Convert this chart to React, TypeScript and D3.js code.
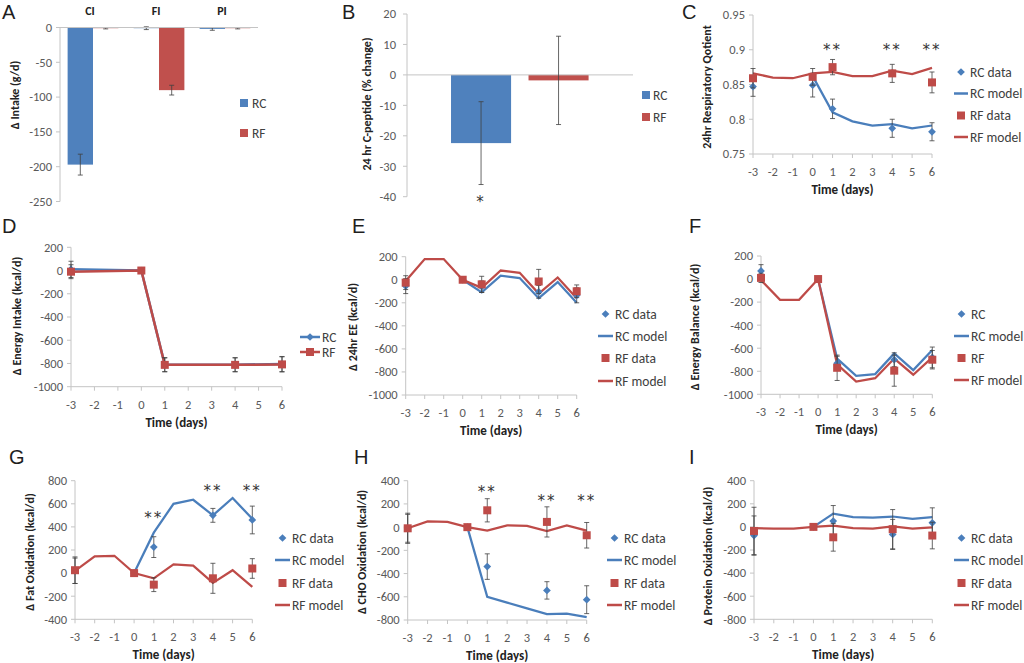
import React from 'react';
import * as d3 from 'd3';

const BLUE = '#4a7ebb';
const RED = '#be4b48';
const BAR_BLUE = '#4f81bd';
const BAR_RED = '#c0504d';
const AXIS = '#c4c4c4';
const TICK_TEXT = '#595959';
const ERR = '#404040';
const FONT = 'Calibri, Carlito, Lato, sans-serif';
const STAR_FONT = 'DejaVu Sans, sans-serif';

// shared day axes
const days = [-3, -2, -1, 0, 1, 2, 3, 4, 5, 6];
const dataDays = [-3, 0, 1, 4, 6];
const modelDaysRC = [0, 1, 2, 3, 4, 5, 6];

// A: intake change by macronutrient
const intakeCats = ['CI', 'FI', 'PI'];
const intakeGroups = ['RC', 'RF'];
const intakeRC = [-197, -1, -2];
const intakeRCErr = [15, 2, 2];
const intakeRF = [-1, -90, -1];
const intakeRFErr = [1, 7, 1];

// B: 24 hr C-peptide
const cpepGroups = ['RC', 'RF'];
const cpepValues = [-22.4, -1.8];
const cpepErr = [13.6, 14.5];

// C: respiratory quotient
const rqRCData = [0.847, 0.849, 0.815, 0.787, 0.782];
const rqRCErr = [0.014, 0.017, 0.014, 0.013, 0.013];
const rqRFData = [0.859, 0.861, 0.875, 0.866, 0.853];
const rqRFErr = [0.014, 0.012, 0.011, 0.013, 0.015];
const rqRCModel = [0.862, 0.81, 0.797, 0.791, 0.793, 0.787, 0.791];
const rqRFModel = [0.866, 0.86, 0.859, 0.866, 0.868, 0.862, 0.862, 0.87, 0.865, 0.874];
const rqStars = [1, 4, 6];
const rqStarY = [0.907, 0.907, 0.907];

// D: energy intake
const eiRC = [10, 0, -810, -810, -805];
const eiRCErr = [70, 0, 60, 60, 65];
const eiRF = [-10, 0, -812, -812, -808];
const eiRFErr = [60, 0, 60, 60, 65];

// E: 24hr EE
const eeRCData = [-55, 0, -60, -105, -135];
const eeRCErr = [65, 0, 50, 55, 65];
const eeRFData = [-25, 0, -40, -15, -100];
const eeRFErr = [60, 0, 70, 105, 55];
const eeRCModel = [0, -110, 35, 15, -160, -20, -200];
const eeRFModel = [-10, 180, 180, 0, -70, 80, 60, -120, 20, -160];

// F: energy balance
const ebRCData = [70, 0, -730, -700, -680];
const ebRCErr = [55, 0, 60, 60, 90];
const ebRFData = [10, 0, -770, -795, -700];
const ebRFErr = [40, 0, 110, 135, 80];
const ebRCModel = [0, -690, -840, -825, -645, -790, -615];
const ebRFModel = [-10, -180, -180, 0, -740, -890, -860, -690, -830, -680];

// G: fat oxidation
const foRCData = [20, 0, 225, 500, 460];
const foRCErr = [110, 0, 90, 60, 120];
const foRFData = [25, 0, -100, -45, 40];
const foRFErr = [115, 0, 60, 130, 85];
const foRCModel = [0, 350, 600, 635, 500, 650, 470];
const foRFModel = [20, 145, 150, 0, -45, 75, 65, -85, 25, -120];
const foStars = [1, 4, 6];
const foStarY = [520, 755, 755];

// H: CHO oxidation
const choRCData = [-10, 0, -340, -545, -625];
const choRCErr = [120, 0, 110, 75, 120];
const choRFData = [-10, 0, 145, 45, -70];
const choRFErr = [130, 0, 100, 130, 110];
const choRCModel = [0, -600, -650, -700, -750, -745, -775];
const choRFModel = [-10, 50, 45, 0, -30, 15, 10, -35, 15, -30];
const choStars = [1, 4, 6];
const choStarY = [348, 268, 268];

// I: protein oxidation
const poRCData = [-75, 0, 50, -65, 35];
const poRCErr = [170, 0, 135, 130, 130];
const poRFData = [-35, 0, -90, -20, -75];
const poRFErr = [205, 0, 120, 170, 115];
const poRCModel = [0, 115, 85, 80, 90, 70, 85];
const poRFModel = [-10, -15, -15, 0, 10, -10, -15, 5, -15, -5];

const modelLegend = ['RC data', 'RC model', 'RF data', 'RF model'];
const balanceLegend = ['RC', 'RC model', 'RF', 'RF model'];

const fmt = (v) => String(Math.round(v * 1000) / 1000);
const diamondPath = d3.symbol(d3.symbolSquare, 30)();
const squarePath = d3.symbol(d3.symbolSquare, 64)();

const Letter = ({ x, y, t }) => (
  <text x={x} y={y} fontSize={20} fill="#1e1e1e" fontFamily="Liberation Sans, Arial, sans-serif">
    {t}
  </text>
);

const YTitle = ({ x, y, t }) => (
  <text transform={`translate(${x},${y}) rotate(-90)`} textAnchor="middle" fontSize={12} fontWeight="bold" fill="#222">
    {t}
  </text>
);

const Stars = ({ x, y, t }) => (
  <text x={x} y={y} textAnchor="middle" fontSize={15} letterSpacing={2} fill="#333" fontFamily={STAR_FONT}>
    {t}
  </text>
);

const Marker = ({ kind, x, y, color }) =>
  kind === 'diamond' ? (
    <path d={diamondPath} transform={`translate(${x},${y}) rotate(45)`} fill={color} />
  ) : (
    <path d={squarePath} transform={`translate(${x},${y})`} fill={color} />
  );

const ErrBar = ({ x, y1, y2 }) => (
  <g stroke={ERR} strokeWidth={0.8}>
    <line x1={x} x2={x} y1={y1} y2={y2} />
    <line x1={x - 2.5} x2={x + 2.5} y1={y1} y2={y1} />
    <line x1={x - 2.5} x2={x + 2.5} y1={y2} y2={y2} />
  </g>
);

function IntakePanel() {
  const y = d3.scaleLinear().domain([-250, 0]).range([201.5, 27.5]);
  const xCat = d3.scaleBand().domain(intakeCats).range([60, 258]);
  const xGrp = d3.scaleBand().domain(intakeGroups).range([0, xCat.bandwidth()]).paddingOuter(0.3);
  const series = [
    { name: 'RC', values: intakeRC, err: intakeRCErr, color: BAR_BLUE },
    { name: 'RF', values: intakeRF, err: intakeRFErr, color: BAR_RED },
  ];
  return (
    <g>
      <Letter x={2} y={19} t="A" />
      {y.ticks(5).map((t) => (
        <g key={t}>
          <line x1={56} x2={60} y1={y(t)} y2={y(t)} stroke={AXIS} />
          <text x={52} y={y(t)} dy="0.35em" textAnchor="end" fontSize={12.5} fill={TICK_TEXT}>
            {fmt(t)}
          </text>
        </g>
      ))}
      <line x1={60} x2={60} y1={y(0)} y2={y(-250)} stroke={AXIS} />
      {series.map((s) =>
        intakeCats.map((c, i) => {
          const bx = xCat(c) + xGrp(s.name);
          const cx = bx + xGrp.bandwidth() / 2;
          return (
            <g key={s.name + c}>
              <rect x={bx} y={y(0)} width={xGrp.bandwidth()} height={y(s.values[i]) - y(0)} fill={s.color} />
              <ErrBar x={cx} y1={y(s.values[i] + s.err[i])} y2={y(s.values[i] - s.err[i])} />
            </g>
          );
        })
      )}
      <line x1={60} x2={258} y1={y(0)} y2={y(0)} stroke={AXIS} />
      {intakeCats.map((c) => (
        <text key={c} x={xCat(c) + xCat.bandwidth() / 2 - 3} y={15} textAnchor="middle" fontSize={12} fontWeight="bold" fill="#222">
          {c}
        </text>
      ))}
      {series.map((s, i) => (
        <g key={s.name}>
          <rect x={240} y={[103, 133][i] - 4} width={8} height={8} fill={s.color} />
          <text x={252} y={[103, 133][i]} dy="0.35em" fontSize={13.5} fill="#404040">
            {s.name}
          </text>
        </g>
      ))}
      <YTitle x={19} y={95} t="Δ Intake (g/d)" />
    </g>
  );
}

function CpeptidePanel() {
  const y = d3.scaleLinear().domain([-40, 20]).range([196.7, 14]);
  const x = d3.scaleBand().domain(cpepGroups).range([442.3, 597.3]).paddingInner(0.225).paddingOuter(0.1125);
  const colors = [BAR_BLUE, BAR_RED];
  return (
    <g>
      <Letter x={342} y={19} t="B" />
      {y.ticks(6).map((t) => (
        <g key={t}>
          <line x1={403} x2={407} y1={y(t)} y2={y(t)} stroke={AXIS} />
          <text x={396} y={y(t)} dy="0.35em" textAnchor="end" fontSize={12.5} fill={TICK_TEXT}>
            {fmt(t)}
          </text>
        </g>
      ))}
      <line x1={407} x2={407} y1={y(20)} y2={y(-40)} stroke={AXIS} />
      {cpepGroups.map((g, i) => (
        <rect key={g} x={x(g)} y={y(0)} width={x.bandwidth()} height={y(cpepValues[i]) - y(0)} fill={colors[i]} />
      ))}
      <line x1={407} x2={633} y1={y(0)} y2={y(0)} stroke={AXIS} />
      {cpepGroups.map((g, i) => (
        <ErrBar key={g} x={x(g) + x.bandwidth() / 2} y1={y(cpepValues[i] + cpepErr[i])} y2={y(cpepValues[i] - cpepErr[i])} />
      ))}
      <Stars x={x('RC') + x.bandwidth() / 2} y={y(-40) + 10} t="*" />
      {cpepGroups.map((g, i) => (
        <g key={g}>
          <rect x={642} y={[95, 117][i] - 4} width={8} height={8} fill={colors[i]} />
          <text x={653} y={[95, 117][i]} dy="0.35em" fontSize={13.5} fill="#404040">
            {g}
          </text>
        </g>
      ))}
      <YTitle x={371} y={104} t="24 hr C-peptide (% change)" />
    </g>
  );
}

function LinePanel(p) {
  const x = d3.scaleLinear().domain([-3, 6]).range(p.xRange);
  const y = d3.scaleLinear().domain(p.yDomain).range(p.yRange);
  const yTicks = d3.range(p.yDomain[0], p.yDomain[1] + p.yStep / 2, p.yStep);
  const [x0, x1] = p.xRange;
  const yb = p.yRange[0];
  const path = (ds: number[], vs: number[]) =>
    d3
      .line<number>()
      .x((d) => x(d))
      .y((_, i) => y(vs[i]))(ds);
  const kinds = p.connect
    ? [
        { kind: 'diamond', color: BLUE, withLine: true },
        { kind: 'square', color: RED, withLine: true },
      ]
    : [
        { kind: 'diamond', color: BLUE, withLine: false },
        { kind: 'line', color: BLUE },
        { kind: 'square', color: RED, withLine: false },
        { kind: 'line', color: RED },
      ];
  const lw = p.legend.w;
  return (
    <g>
      <Letter x={p.letter[1]} y={p.letter[2]} t={p.letter[0]} />
      {yTicks.map((t) => (
        <g key={t}>
          <line x1={x0 - 4} x2={x0} y1={y(t)} y2={y(t)} stroke={AXIS} />
          <text x={x0 - 8} y={y(t)} dy="0.35em" textAnchor="end" fontSize={12.5} fill={TICK_TEXT}>
            {fmt(t)}
          </text>
        </g>
      ))}
      <line x1={x0} x2={x0} y1={p.yRange[1]} y2={yb} stroke={AXIS} />
      <line x1={x0} x2={x1} y1={yb} y2={yb} stroke={AXIS} />
      {days.map((d) => (
        <g key={d}>
          <line x1={x(d)} x2={x(d)} y1={yb} y2={yb + 4} stroke={AXIS} />
          <text x={x(d)} y={yb + 22} textAnchor="middle" fontSize={12.5} fill={TICK_TEXT}>
            {d}
          </text>
        </g>
      ))}
      <text x={(x0 + x1) / 2} y={yb + 40} textAnchor="middle" fontSize={13} fontWeight="bold" fill="#222">
        Time (days)
      </text>
      <YTitle x={p.yTitle[1]} y={p.yTitle[2]} t={p.yTitle[0]} />

      {p.connect ? (
        <>
          <path d={path(dataDays, p.rcData)} fill="none" stroke={BLUE} strokeWidth={2.5} />
          <path d={path(dataDays, p.rfData)} fill="none" stroke={RED} strokeWidth={2.5} />
        </>
      ) : (
        <>
          <path d={path(modelDaysRC, p.rcModel)} fill="none" stroke={BLUE} strokeWidth={2.25} />
          <path d={path(days, p.rfModel)} fill="none" stroke={RED} strokeWidth={2.25} />
        </>
      )}
      {dataDays.map((d, i) =>
        p.rcErr[i] > 0 ? <ErrBar key={'rce' + d} x={x(d)} y1={y(p.rcData[i] + p.rcErr[i])} y2={y(p.rcData[i] - p.rcErr[i])} /> : null
      )}
      {dataDays.map((d, i) => (
        <Marker key={'rc' + d} kind="diamond" x={x(d)} y={y(p.rcData[i])} color={BLUE} />
      ))}
      {dataDays.map((d, i) =>
        p.rfErr[i] > 0 ? <ErrBar key={'rfe' + d} x={x(d)} y1={y(p.rfData[i] + p.rfErr[i])} y2={y(p.rfData[i] - p.rfErr[i])} /> : null
      )}
      {dataDays.map((d, i) => (
        <Marker key={'rf' + d} kind="square" x={x(d)} y={y(p.rfData[i])} color={RED} />
      ))}
      {(p.stars || []).map((d, i) => (
        <Stars key={'s' + d} x={x(d)} y={y(p.starY[i]) + 10} t="**" />
      ))}

      {p.legend.labels.map((lab, i) => {
        const k = kinds[i];
        const ly = p.legend.ys[i];
        const sx = p.legend.x;
        return (
          <g key={lab}>
            {(k.kind === 'line' || k.withLine) && <line x1={sx} x2={sx + lw} y1={ly} y2={ly} stroke={k.color} strokeWidth={2.5} />}
            {k.kind !== 'line' && <Marker kind={k.kind} x={sx + lw / 2} y={ly} color={k.color} />}
            <text x={sx + lw + 2} y={ly} dy="0.35em" fontSize={13.5} fill="#404040">
              {lab}
            </text>
          </g>
        );
      })}
    </g>
  );
}

export default function App() {
  return (
    <svg width={1024} height={663} style={{ position: 'absolute', left: 0, top: 0 }} fontFamily={FONT}>
      <rect width={1024} height={663} fill="#fff" />
      <IntakePanel />
      <CpeptidePanel />
      <LinePanel
        letter={['C', 682, 19]}
        xRange={[753, 932]}
        yRange={[154, 15]}
        yDomain={[0.75, 0.95]}
        yStep={0.05}
        yTitle={['24hr Respiratory Qotient', 711, 87]}
        rcData={rqRCData}
        rcErr={rqRCErr}
        rfData={rqRFData}
        rfErr={rqRFErr}
        rcModel={rqRCModel}
        rfModel={rqRFModel}
        stars={rqStars}
        starY={rqStarY}
        legend={{ x: 954, w: 14, ys: [72, 93.5, 115.5, 137], labels: modelLegend }}
      />
      <LinePanel
        letter={['D', 2, 233]}
        xRange={[71, 282]}
        yRange={[386.7, 247.3]}
        yDomain={[-1000, 200]}
        yStep={200}
        yTitle={['Δ Energy Intake (kcal/d)', 21, 316]}
        rcData={eiRC}
        rcErr={eiRCErr}
        rfData={eiRF}
        rfErr={eiRFErr}
        connect
        legend={{ x: 300, w: 20, ys: [337, 352], labels: ['RC', 'RF'] }}
      />
      <LinePanel
        letter={['E', 352, 233]}
        xRange={[405.7, 576.7]}
        yRange={[395, 256.7]}
        yDomain={[-1000, 200]}
        yStep={200}
        yTitle={['Δ 24hr EE  (kcal/d)', 357, 327]}
        rcData={eeRCData}
        rcErr={eeRCErr}
        rfData={eeRFData}
        rfErr={eeRFErr}
        rcModel={eeRCModel}
        rfModel={eeRFModel}
        legend={{ x: 598, w: 15, ys: [314, 336, 358, 381], labels: modelLegend }}
      />
      <LinePanel
        letter={['F', 689, 233]}
        xRange={[761, 932.3]}
        yRange={[394.3, 256]}
        yDomain={[-1000, 200]}
        yStep={200}
        yTitle={['Δ Energy Balance  (kcal/d)', 699, 327]}
        rcData={ebRCData}
        rcErr={ebRCErr}
        rfData={ebRFData}
        rfErr={ebRFErr}
        rcModel={ebRCModel}
        rfModel={ebRFModel}
        legend={{ x: 954, w: 15, ys: [314, 336, 358, 380], labels: balanceLegend }}
      />
      <LinePanel
        letter={['G', 9, 464]}
        xRange={[75, 252.3]}
        yRange={[619.3, 480.7]}
        yDomain={[-400, 800]}
        yStep={200}
        yTitle={['Δ Fat Oxidation (kcal/d)', 34, 552]}
        rcData={foRCData}
        rcErr={foRCErr}
        rfData={foRFData}
        rfErr={foRFErr}
        rcModel={foRCModel}
        rfModel={foRFModel}
        stars={foStars}
        starY={foStarY}
        legend={{ x: 275, w: 15, ys: [538, 560, 583, 605], labels: modelLegend }}
      />
      <LinePanel
        letter={['H', 354, 464]}
        xRange={[407.7, 586.7]}
        yRange={[620, 480.7]}
        yDomain={[-800, 400]}
        yStep={200}
        yTitle={['Δ CHO Oxidation (kcal/d)', 366, 552]}
        rcData={choRCData}
        rcErr={choRCErr}
        rfData={choRFData}
        rfErr={choRFErr}
        rcModel={choRCModel}
        rfModel={choRFModel}
        stars={choStars}
        starY={choStarY}
        legend={{ x: 607, w: 15, ys: [538, 560, 583, 605], labels: modelLegend }}
      />
      <LinePanel
        letter={['I', 689, 464]}
        xRange={[754, 932.3]}
        yRange={[619.3, 480.7]}
        yDomain={[-800, 400]}
        yStep={200}
        yTitle={['Δ Protein Oxidation (kcal/d)', 712, 556]}
        rcData={poRCData}
        rcErr={poRCErr}
        rfData={poRFData}
        rfErr={poRFErr}
        rcModel={poRCModel}
        rfModel={poRFModel}
        legend={{ x: 954, w: 15, ys: [538, 560, 583, 605], labels: modelLegend }}
      />
    </svg>
  );
}
